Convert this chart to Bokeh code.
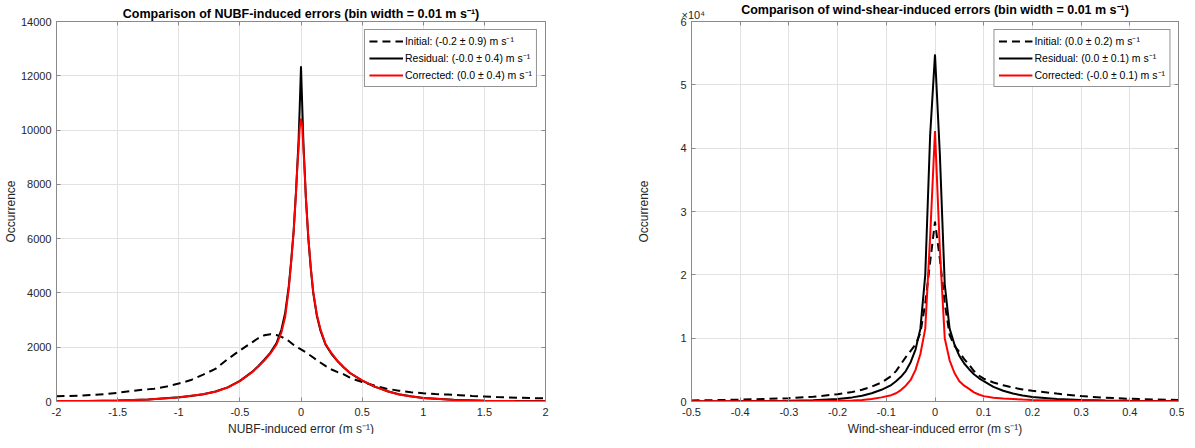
from bokeh.plotting import figure
from bokeh.layouts import row
from bokeh.models import LinearAxis, FixedTicker, Title, Range1d
from bokeh.embed import file_html
from bokeh.resources import INLINE

# ---------------- data ----------------
nubf_x = [-2.0, -1.75, -1.5, -1.25, -1.0, -0.9, -0.8, -0.7, -0.6, -0.5, -0.4, -0.35, -0.3, -0.25,
          -0.2, -0.16, -0.13, -0.1, -0.08, -0.06, -0.04, -0.03, -0.02, -0.01, 0.0, 0.01, 0.02,
          0.03, 0.04, 0.06, 0.08, 0.1, 0.13, 0.16, 0.2, 0.25, 0.3, 0.35, 0.4, 0.5, 0.6, 0.7,
          0.8, 0.9, 1.0, 1.25, 1.5, 1.75, 2.0]
nubf_residual = [15, 22, 38, 75, 155, 205, 270, 370, 520, 760, 1090, 1300, 1540, 1800,
                 2150, 2650, 3250, 4250, 5200, 6300, 7800, 8700, 9600, 10900, 12350, 10900, 9500,
                 8500, 7500, 6000, 4900, 4000, 3150, 2600, 2100, 1750, 1480, 1250, 1050, 770, 550, 390,
                 270, 190, 130, 60, 30, 20, 15]
nubf_corrected = [14, 22, 36, 72, 150, 210, 265, 360, 515, 750, 1080, 1290, 1510, 1770,
                  2100, 2550, 3100, 4150, 5150, 6250, 7750, 8650, 9300, 10100, 10420, 10150, 9300,
                  8450, 7500, 6050, 4950, 4050, 3200, 2650, 2130, 1780, 1490, 1260, 1060, 780, 555, 385,
                  260, 185, 125, 58, 28, 18, 12]
nubf_init_x = [-2.0, -1.9, -1.8, -1.7, -1.6, -1.5, -1.4, -1.3, -1.2, -1.1, -1.0, -0.9, -0.8, -0.7,
               -0.6, -0.5, -0.45, -0.4, -0.35, -0.3, -0.25, -0.2, -0.15, -0.1, -0.05, 0.0, 0.05,
               0.1, 0.15, 0.2, 0.25, 0.3, 0.35, 0.4, 0.45, 0.5, 0.6, 0.7, 0.8, 0.9, 1.0, 1.1, 1.2,
               1.3, 1.4, 1.5, 1.6, 1.7, 1.8, 1.9, 2.0]
nubf_initial = [195, 205, 220, 240, 270, 320, 380, 430, 470, 550, 660, 790, 990, 1200,
                1560, 1880, 2030, 2180, 2330, 2440, 2480, 2450, 2360, 2230, 2050, 1920, 1780,
                1620, 1460, 1310, 1180, 1080, 1000, 880, 790, 720, 590, 470, 400, 340, 305, 275, 255,
                230, 205, 185, 165, 150, 135, 125, 115]

ws_x = [-0.5, -0.45, -0.4, -0.35, -0.3, -0.25, -0.2, -0.17, -0.15, -0.13, -0.11, -0.09, -0.08,
        -0.07, -0.06, -0.05, -0.04, -0.03, -0.02, -0.01, 0.0, 0.01, 0.02, 0.03, 0.04, 0.05, 0.06,
        0.07, 0.08, 0.09, 0.1, 0.12, 0.14, 0.16, 0.18, 0.2, 0.25, 0.3, 0.35, 0.4, 0.45, 0.5]
ws_initial = [160, 220, 300, 400, 520, 750, 1150, 1500, 1850, 2350, 3000, 4000, 4800,
              5900, 7000, 8000, 9000, 10800, 15500, 22000, 28400, 22500, 15500, 10500, 8800, 7800, 6700,
              5800, 4800, 4100, 3600, 3000, 2550, 2200, 1900, 1700, 1250, 850, 600, 430, 320, 250]
ws_residual = [40, 50, 60, 80, 110, 200, 400, 650, 900, 1300, 1850, 2600, 3200,
               3900, 4800, 6200, 8200, 11500, 20000, 42000, 54800, 39000, 18500, 11500, 9000, 7200, 6000,
               5100, 4300, 3700, 3200, 2300, 1700, 1250, 950, 700, 380, 230, 150, 110, 80, 60]
ws_corrected = [20, 25, 30, 35, 45, 70, 120, 170, 230, 400, 650, 1000, 1300,
                1800, 2500, 3400, 5000, 7500, 11500, 26000, 42700, 24000, 10000, 6500, 4500, 3200, 2500,
                2000, 1450, 1100, 850, 600, 480, 400, 300, 250, 140, 80, 55, 40, 30, 25]

nubf_xticks = [-2, -1.5, -1, -0.5, 0, 0.5, 1, 1.5, 2]
nubf_xticklabels = ["-2", "-1.5", "-1", "-0.5", "0", "0.5", "1", "1.5", "2"]
nubf_yticks = [0, 2000, 4000, 6000, 8000, 10000, 12000, 14000]
nubf_yticklabels = ["0", "2000", "4000", "6000", "8000", "10000", "12000", "14000"]
ws_xticks = [-0.5, -0.4, -0.3, -0.2, -0.1, 0, 0.1, 0.2, 0.3, 0.4, 0.5]
ws_xticklabels = ["-0.5", "-0.4", "-0.3", "-0.2", "-0.1", "0", "0.1", "0.2", "0.3", "0.4", "0.5"]
ws_yticks = [0, 10000, 20000, 30000, 40000, 50000, 60000]
ws_yticklabels = ["0", "1", "2", "3", "4", "5", "6"]
ws_multiplier = "\u00d710\u2074"

nubf_legend = ["Initial: (-0.2 \u00b1 0.9) m s\u207b\u00b9",
               "Residual: (-0.0 \u00b1 0.4) m s\u207b\u00b9",
               "Corrected: (0.0 \u00b1 0.4) m s\u207b\u00b9"]
ws_legend = ["Initial: (0.0 \u00b1 0.2) m s\u207b\u00b9",
             "Residual: (0.0 \u00b1 0.1) m s\u207b\u00b9",
             "Corrected: (-0.0 \u00b1 0.1) m s\u207b\u00b9"]

FONT = "Liberation Sans"
TXT = "#262626"
AXC = "#8a8a8a"
GRIDC = "#e2e2e2"


def make(title, xr, yr, xticks, xlabels, yticks, ylabels, xlabel,
         fw, bl, br, ylab_standoff, top_pad, xs, ys_init, xs_init, ys_res, ys_cor, legend):
    p = figure(frame_width=fw, frame_height=380, x_range=Range1d(*xr), y_range=Range1d(*yr),
               output_backend="svg", toolbar_location=None,
               min_border_left=bl, min_border_right=br, min_border_top=14, min_border_bottom=37)
    p.title.text = title
    p.title.align = "center"
    p.title.text_font = FONT
    p.title.text_font_size = "12.5px"
    p.title.text_font_style = "bold"
    p.title.text_color = "#000000"
    p.title.standoff = 1
    p.outline_line_color = AXC

    p.add_layout(LinearAxis(), "above")
    p.add_layout(LinearAxis(), "right")
    for ax in p.xaxis:
        ax.ticker = FixedTicker(ticks=xticks)
        ax.major_label_overrides = {t: l for t, l in zip(xticks, xlabels)}
    for ax in p.yaxis:
        ax.ticker = FixedTicker(ticks=yticks)
        ax.major_label_overrides = {t: l for t, l in zip(yticks, ylabels)}
    for ax in p.axis:
        ax.axis_line_color = AXC
        ax.major_tick_line_color = AXC
        ax.major_tick_in = 4
        ax.major_tick_out = 0
        ax.minor_tick_line_color = None
        ax.major_label_text_font = FONT
        ax.major_label_text_font_size = "11px"
        ax.major_label_text_color = TXT
        ax.axis_label_text_font = FONT
        ax.axis_label_text_font_size = "12px"
        ax.axis_label_text_font_style = "normal"
        ax.axis_label_text_color = TXT
    # extra box axes: ticks only, no labels
    p.above[-1].major_label_overrides = {t: "" for t in xticks}
    p.right[-1].major_label_overrides = {t: "" for t in yticks}
    p.above[-1].major_label_standoff = top_pad
    p.right[-1].major_label_standoff = 0
    p.below[0].major_label_standoff = 6
    p.below[0].axis_label = xlabel
    p.below[0].axis_label_standoff = 3
    p.left[0].major_label_standoff = 5
    p.left[0].axis_label = "Occurrence"
    p.left[0].axis_label_standoff = ylab_standoff

    p.xgrid.grid_line_color = GRIDC
    p.ygrid.grid_line_color = GRIDC
    p.xgrid.ticker = FixedTicker(ticks=xticks)
    p.ygrid.ticker = FixedTicker(ticks=yticks)

    p.line(xs_init, ys_init, line_color="black", line_width=2, line_dash="8 5", legend_label=legend[0])
    p.line(xs, ys_res, line_color="black", line_width=2, legend_label=legend[1])
    p.line(xs, ys_cor, line_color="#ff0000", line_width=2, legend_label=legend[2])

    lg = p.legend[0]
    lg.location = "top_right"
    lg.margin = 8
    lg.padding = 4
    lg.spacing = 3
    lg.label_text_font = FONT
    lg.label_text_font_size = "10.5px"
    lg.label_text_color = "#000000"
    lg.glyph_width = 34
    lg.glyph_height = 14
    lg.label_height = 14
    lg.label_standoff = 2
    lg.border_line_color = "#262626"
    lg.border_line_width = 1
    lg.background_fill_alpha = 1
    return p


p1 = make("Comparison of NUBF-induced errors (bin width = 0.01 m s\u207b\u00b9)",
          (-2, 2), (0, 14000), nubf_xticks, nubf_xticklabels, nubf_yticks, nubf_yticklabels,
          "NUBF-induced error (m s\u207b\u00b9)", 489, 50, 85, 0, 5,
          nubf_x, nubf_initial, nubf_init_x, nubf_residual, nubf_corrected, nubf_legend)
p2 = make("Comparison of wind-shear-induced errors (bin width = 0.01 m s\u207b\u00b9)",
          (-0.5, 0.5), (0, 60000), ws_xticks, ws_xticklabels, ws_yticks, ws_yticklabels,
          "Wind-shear-induced error (m s\u207b\u00b9)", 487, 61, 6, 26, 0,
          ws_x, ws_initial, ws_x, ws_residual, ws_corrected, ws_legend)

# multiplier of the y axis, written above the axis (two-line block lifts the visible line)
p2.add_layout(Title(text=ws_multiplier + "\n", align="left", offset=-10, standoff=-22,
                    text_font=FONT, text_font_size="11px", text_font_style="normal",
                    text_color=TXT), "above")

layout = row(p1, p2)
open("out.html", "w").write(file_html(layout, INLINE))
